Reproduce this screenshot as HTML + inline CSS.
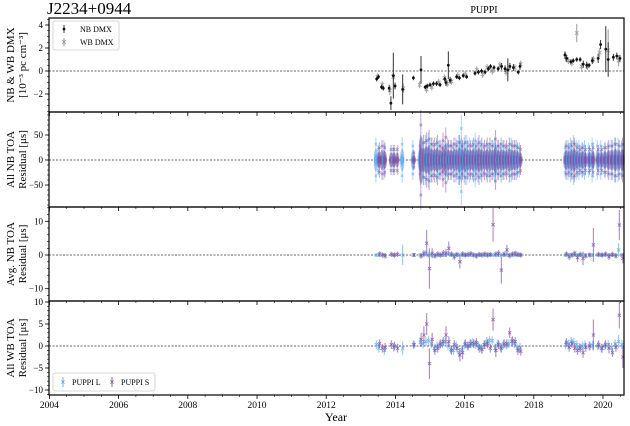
<!DOCTYPE html>
<html><head><meta charset="utf-8">
<style>
html,body{margin:0;padding:0;background:#fff;}
svg{display:block;font-family:"Liberation Serif",serif;}
</style></head>
<body>
<svg id="chart" width="630" height="426" viewBox="0 0 630 426" xmlns="http://www.w3.org/2000/svg">
<text x="47" y="14" font-size="17">J2234+0944</text>
<text x="484" y="13" font-size="10" text-anchor="middle">PUPPI</text>
<text x="336" y="421" font-size="12" text-anchor="middle">Year</text>
<g id="g"></g>
</svg>
<script>
// ---------- data ----------
const xTicks = [2004,2006,2008,2010,2012,2014,2016,2018,2020];
const nbYears = [2013.46,2013.51,2013.60,2013.65,2013.82,2013.87,2013.94,2013.99,2014.21,2014.52,2014.74,2014.86,2014.92,2015.00,2015.10,2015.19,2015.29,2015.43,2015.46,2015.53,2015.58,2015.77,2015.85,2015.96,2016.06,2016.30,2016.40,2016.49,2016.59,2016.69,2016.75,2016.85,2016.97,2017.07,2017.17,2017.25,2017.31,2017.41,2017.55,2017.60,2018.90,2018.95,2019.07,2019.14,2019.24,2019.34,2019.43,2019.53,2019.60,2019.69,2019.86,2019.93,2020.08,2020.15,2020.30,2020.40,2020.49];
const nbDmx = [-0.7,-0.5,-1.4,-1.5,-1.5,-2.8,-0.4,-1.3,-1.6,-0.6,0.1,-1.4,-1.3,-1.2,-1.1,-1.1,-1.2,-0.7,-1.0,0.5,-0.8,-0.5,-0.6,-0.4,-0.5,-0.2,-0.1,0.0,-0.1,0.2,0.4,0.3,0.2,0.4,0.2,0.1,0.4,0.3,-0.1,0.4,1.4,1.1,0.8,0.9,1.0,1.0,0.6,0.5,0.5,0.9,1.1,2.3,1.9,1.0,1.2,1.3,1.1];
const nbErr = [0.2,0.2,0.2,0.2,0.3,0.6,2.0,0.3,1.3,0.2,1.2,0.2,0.2,0.2,0.2,0.2,0.2,0.2,0.3,1.2,0.3,0.2,0.2,0.2,0.2,0.2,0.2,0.2,0.2,0.2,0.2,0.2,0.2,0.3,0.3,1.0,0.3,0.3,0.2,0.3,0.3,0.3,0.2,0.2,0.2,0.2,0.3,0.3,0.2,0.3,0.4,0.4,2.0,1.5,0.3,0.3,0.3];
const wbYears = [2013.48,2013.62,2013.84,2013.94,2014.23,2014.70,2014.90,2015.05,2015.25,2015.42,2015.50,2015.62,2015.80,2016.02,2016.35,2016.52,2016.65,2016.80,2017.02,2017.20,2017.45,2017.62,2018.92,2019.00,2019.10,2019.24,2019.38,2019.55,2019.72,2019.90,2020.15,2020.45];
const wbDmx = [-0.5,-1.2,-1.7,-0.5,-1.5,-1.2,-1.6,-1.4,-1.0,-0.6,-1.1,-0.9,-0.4,-0.3,0.1,-0.3,0.3,0.0,0.5,-0.1,0.3,0.6,1.2,0.9,0.7,3.3,0.4,0.4,1.0,1.6,1.8,0.9];
const wbErr = [0.3,0.3,0.4,0.3,0.4,0.3,0.3,0.3,0.3,0.3,0.3,0.3,0.3,0.3,0.3,0.3,0.3,0.3,0.3,0.3,0.3,0.3,0.4,0.3,0.3,0.8,0.3,0.3,0.3,0.4,1.8,0.5];

const epochs = [2013.45,2013.52,2013.6,2013.68,2013.86,2013.95,2014.04,2014.21,2014.52,2014.72,2014.8,2014.88,2014.96,2015.04,2015.12,2015.2,2015.28,2015.36,2015.44,2015.52,2015.6,2015.68,2015.76,2015.84,2015.92,2016.0,2016.08,2016.16,2016.24,2016.32,2016.4,2016.48,2016.56,2016.64,2016.72,2016.8,2016.88,2016.96,2017.04,2017.12,2017.2,2017.28,2017.36,2017.44,2017.52,2017.6,2018.92,2019.0,2019.08,2019.16,2019.24,2019.32,2019.4,2019.48,2019.6,2019.7,2019.85,2019.95,2020.05,2020.15,2020.25,2020.35,2020.45,2020.55];
const nbAmpL = [45,30,0,40,0,30,0,45,40,40,45,50,55,45,40,45,40,35,40,45,40,35,45,50,90,45,50,45,40,55,45,40,35,40,35,40,45,40,35,40,35,30,45,40,40,35,35,40,45,50,40,40,35,40,35,45,40,40,35,35,40,45,45,40];
const nbAmpS = [0,35,40,35,30,30,30,0,20,100,50,55,60,45,45,50,40,55,65,40,40,45,40,50,40,50,40,40,45,40,50,45,40,45,45,40,60,40,45,40,40,45,40,40,35,30,40,35,40,45,35,30,35,30,30,35,30,30,35,40,40,45,40,45];

const avgS = [null,0.3,0,-0.3,0.2,0,0.2,null,0,-0.3,0.5,3.5,-4,0.5,-0.3,0.3,0,0.5,0.6,2,0.3,-0.5,0.2,-2,0.3,0,0.2,0.4,0,-0.3,0.2,0,0.3,0,0.2,9,0.3,0.5,-4.5,0.3,1.5,-0.2,0.3,0.5,0.2,0,0.3,-0.5,0,0.5,-0.8,0.2,-1,-0.3,0,3,0.2,0,0.3,-0.5,0.2,-0.3,8.9,-1];
const avgSErr = [0,0.8,0.8,0.8,0.8,0.8,0.8,0,0.6,0.8,1,4,6,1.5,0.8,0.8,0.8,1,1.2,2,0.8,1,0.8,2,0.8,0.8,0.8,0.8,0.8,0.8,0.8,0.8,0.8,0.8,0.8,5,0.8,1,4,0.8,1.5,0.8,0.8,0.8,0.8,0.8,0.8,1,0.8,0.8,1.2,0.8,2,0.8,0.8,5,0.8,0.8,0.8,1,0.8,0.8,4.5,1.5];
const avgL = [0,0,null,0,null,0,null,0,0,0,0,0.5,0,0,0,0,0,0,0,0.3,0,0,0,0,0,0,0,0,0,0,0,0,0,0,0,0,0,0,0,0,0,0,0,0,0,0,0,0,0,0,0,0,0,0,0,0,0,0,0,0,0,0,1.5,0];
const avgLErr = [0.6,0.6,0,0.6,0,0.6,0,3,0.6,0.6,0.6,0.8,0.8,0.6,0.6,0.6,0.6,0.6,0.6,0.6,0.6,0.6,0.6,0.6,0.6,0.6,0.6,0.6,0.6,0.6,0.6,0.6,0.6,0.6,0.6,0.6,0.6,0.6,0.6,0.6,0.6,0.6,0.6,0.6,0.6,0.6,0.6,0.6,0.6,0.6,0.6,0.6,0.6,0.6,0.6,0.6,0.6,0.6,0.6,0.6,0.6,0.6,2,0.6];

const wbS = [null,0.5,-0.5,-0.3,0.3,0,-0.5,null,0.3,1.5,2.5,5,-4,1.5,-1,-0.5,0.5,1,2.5,1,-1,0.3,-0.5,-2,-1.5,0.5,0,0.5,0.5,0.8,-0.5,-0.8,0.3,0.5,-0.5,6,-1,0.3,-0.5,0.5,0.5,3,1.2,1,-1,-1.2,0.8,-0.3,0.5,-0.5,-1,-0.5,-1.5,-0.3,0,2.5,0.3,-0.5,0.3,-0.5,-1.5,-0.3,7,-2.5];
const wbSErr = [0,1,1,1,1,1,1,0,0.8,1.5,2,2.5,3.5,1.5,1,1,1,1,2,1.2,1,1,1,1.5,1.5,1,1,1,1,1,1,1,1,1,1,2.5,1.5,1,1,1,1,1.2,1,1,1,1,1,1,1,1,1,1,1.2,1,1,3.5,1,1,1,1.2,1,1,3,2.5];
const wbL = [0.3,-0.5,null,-1,null,-0.3,null,-0.5,0.3,0.8,0.5,1,1.2,0.5,-0.5,0,0.3,0.5,1,0,-0.8,-1,0,-1.5,-0.8,0.3,0,0.5,0.8,0.3,0,-0.5,0.3,1,1.3,1.2,-0.5,0.5,-0.3,0.3,0.2,0.5,1,0.5,-0.5,-0.3,0.3,0.5,1,0.8,0.3,-0.3,0,0.3,0,0.2,0,-0.5,0,0.3,-0.3,0.5,1,0.3];
const wbLErr = [1,1,0,1,0,1,0,1.5,1,1,1,1,1,1,1,1,1,1,1,1,1,1,1,1,1,1,1,1,1,1,1,1,1,1,1,1,1,1,1,1,1,1,1,1,1,1,1,1,1,1,1,1,1,1,1,1,1,1,1,1,1,1,1.5,1];

// ---------- layout ----------
const X0=49.4, PX=34.6, XL=49, XR=624;
const xs = y => X0 + (y-2004)*PX;
const panels = [
 {top:18, bot:112, zero:71, k:11.5, ticks:[4,2,0,-2], minor:0.5, name:'dmx', lab:['NB & WB DMX','[10⁻³ pc cm⁻³]']},
 {top:112, bot:207, zero:160, k:0.5, ticks:[50,0,-50], minor:10, name:'nb-toa', lab:['All NB TOA','Residual [μs]']},
 {top:207, bot:301, zero:255, k:3.37, ticks:[10,0,-10], minor:2, name:'avg-nb-toa', lab:['Avg. NB TOA','Residual [μs]']},
 {top:301, bot:395, zero:346, k:4.4, ticks:[10,5,0,-5,-10], minor:1, name:'wb-toa', lab:['All WB TOA','Residual [μs]']}
];
const NS='http://www.w3.org/2000/svg';
const G=document.getElementById('g');
function el(tag, attrs, parent, txt){
  const e=document.createElementNS(NS,tag);
  for(const k in attrs) e.setAttribute(k,attrs[k]);
  if(txt!==undefined) e.textContent=txt;
  (parent||G).appendChild(e); return e;
}
const BLUE='#5aa8ec', PURP='#7d4f9e';

function xmark(g,x,y,c,s,op){
  const p=el('path',{d:`M${x-s} ${y-s}L${x+s} ${y+s}M${x-s} ${y+s}L${x+s} ${y-s}`,stroke:c,'stroke-width':0.8,fill:'none',opacity:op},g);
  
  
}

panels.forEach((P,pi)=>{
  const ys=v=>P.zero - v*P.k;
  const pg=el('g',{});
  
  
  const zl=el('line',{x1:XL,x2:XR,y1:P.zero,y2:P.zero,stroke:'#333','stroke-width':0.8,'stroke-dasharray':'2,1.5'},pg);
  
  
  const vmax=(P.zero-P.top)/P.k, vmin=-(P.bot-P.zero)/P.k;
  for(let v=Math.ceil(vmin/P.minor)*P.minor; v<=vmax; v+=P.minor){
    el('line',{x1:XL-2,x2:XL,y1:ys(v),y2:ys(v),stroke:'#000','stroke-width':0.6},pg);
  }
  P.ticks.forEach(t=>{
    el('line',{x1:XL-4,x2:XL,y1:ys(t),y2:ys(t),stroke:'#000','stroke-width':0.8},pg);
    const tl=el('text',{x:XL-6,y:ys(t)+3,'font-size':9,'text-anchor':'end'},pg,t<0?'−'+(-t):String(t));
    
    
  });
  const cy=(P.top+P.bot)/2;
  const yl=el('text',{transform:`translate(14,${cy}) rotate(-90)`,'font-size':11,'text-anchor':'middle'},pg,P.lab[0]);
  
  
  const yl2=el('text',{transform:`translate(26,${cy}) rotate(-90)`,'font-size':11,'text-anchor':'middle'},pg,P.lab[1]);
  
  
  for(let y=2004;y<=2020.6;y+=0.5){
    const major=(y%2===0);
    el('line',{x1:xs(y),x2:xs(y),y1:P.bot,y2:P.bot+(major?4:2),stroke:'#000','stroke-width':major?0.8:0.6},pg);
  }
  const dg=el('g',{},pg);
  
  
  if(pi===0){
    wbYears.forEach((yr,i)=>{
      const x=xs(yr),y=ys(wbDmx[i]);
      el('line',{x1:x,x2:x,y1:ys(wbDmx[i]+wbErr[i]),y2:ys(wbDmx[i]-wbErr[i]),stroke:'#aaa','stroke-width':1.2},dg);
      xmark(dg,x,y,'#999',1.8,1);
    });
    nbYears.forEach((yr,i)=>{
      const x=xs(yr),y=ys(nbDmx[i]);
      el('line',{x1:x,x2:x,y1:ys(nbDmx[i]+nbErr[i]),y2:ys(nbDmx[i]-nbErr[i]),stroke:'#333','stroke-width':1},dg);
      const c=el('circle',{cx:x,cy:y,r:1.4,fill:'#111'},dg);
      
      
    });
  } else if(pi===1){
    epochs.forEach((yr,i)=>{
      const x=xs(yr);
      [[nbAmpL[i],BLUE,-0.5],[nbAmpS[i],PURP,0.5]].forEach(([a,c,o])=>{
        if(!a) return;
        el('line',{x1:x+o,x2:x+o,y1:ys(a),y2:ys(-a),stroke:c,'stroke-width':1,opacity:0.5},dg);
        el('ellipse',{cx:x+o,cy:P.zero,rx:2.2,ry:a*0.5*P.k,fill:c,opacity:0.55},dg);
        el('ellipse',{cx:x+o,cy:P.zero,rx:1.8,ry:a*0.25*P.k,fill:c,opacity:0.7},dg);
        xmark(dg,x+o,ys(a*0.7),c,1.3,0.6);
        xmark(dg,x+o,ys(-a*0.7),c,1.3,0.6);
      });
    });
  } else {
    const L=pi===2?avgL:wbL, Le=pi===2?avgLErr:wbLErr, S=pi===2?avgS:wbS, Se=pi===2?avgSErr:wbSErr;
    epochs.forEach((yr,i)=>{
      const x=xs(yr);
      if(L[i]!==null){
        el('line',{x1:x,x2:x,y1:ys(L[i]+Le[i]),y2:ys(L[i]-Le[i]),stroke:BLUE,'stroke-width':1.2,opacity:0.6},dg);
        xmark(dg,x,ys(L[i]),BLUE,1.6,0.8);
      }
      if(S[i]!==null){
        el('line',{x1:x+0.8,x2:x+0.8,y1:ys(S[i]+Se[i]),y2:ys(S[i]-Se[i]),stroke:PURP,'stroke-width':1.2,opacity:0.6},dg);
        xmark(dg,x+0.8,ys(S[i]),PURP,1.6,0.8);
      }
    });
  }
  const fr=el('rect',{x:XL,y:P.top,width:XR-XL,height:P.bot-P.top,fill:'none',stroke:'#000','stroke-width':1.2},pg);
  
  
});
xTicks.forEach(t=>{
  const tl=el('text',{x:xs(t),y:408,'font-size':9.5,'text-anchor':'middle'},G,String(t));
  
  
});
const lg1=el('g',{});


el('rect',{x:53,y:21,width:66,height:29,rx:2,fill:'#fff',stroke:'#ccc','stroke-width':0.8},lg1);
el('line',{x1:64,x2:64,y1:25,y2:33,stroke:'#333','stroke-width':1},lg1);
el('circle',{cx:64,cy:29,r:1.4,fill:'#111'},lg1);
el('text',{x:80,y:32,'font-size':8},lg1,'NB DMX');
el('line',{x1:64,x2:64,y1:38,y2:46,stroke:'#aaa','stroke-width':1.2},lg1);
xmark(lg1,64,42,'#999',1.8,1);
el('text',{x:80,y:45,'font-size':8},lg1,'WB DMX');
const lg2=el('g',{});


el('rect',{x:53,y:373,width:102,height:18,rx:2,fill:'#fff',stroke:'#ccc','stroke-width':0.8},lg2);
el('line',{x1:63,x2:63,y1:377,y2:387,stroke:BLUE,'stroke-width':1.2,opacity:0.7},lg2);
xmark(lg2,63,382,BLUE,1.6,1);
el('text',{x:72,y:385,'font-size':8},lg2,'PUPPI L');
el('line',{x1:112,x2:112,y1:377,y2:387,stroke:PURP,'stroke-width':1.2,opacity:0.7},lg2);
xmark(lg2,112,382,PURP,1.6,1);
el('text',{x:121,y:385,'font-size':8},lg2,'PUPPI S');
</script>
</body></html>
